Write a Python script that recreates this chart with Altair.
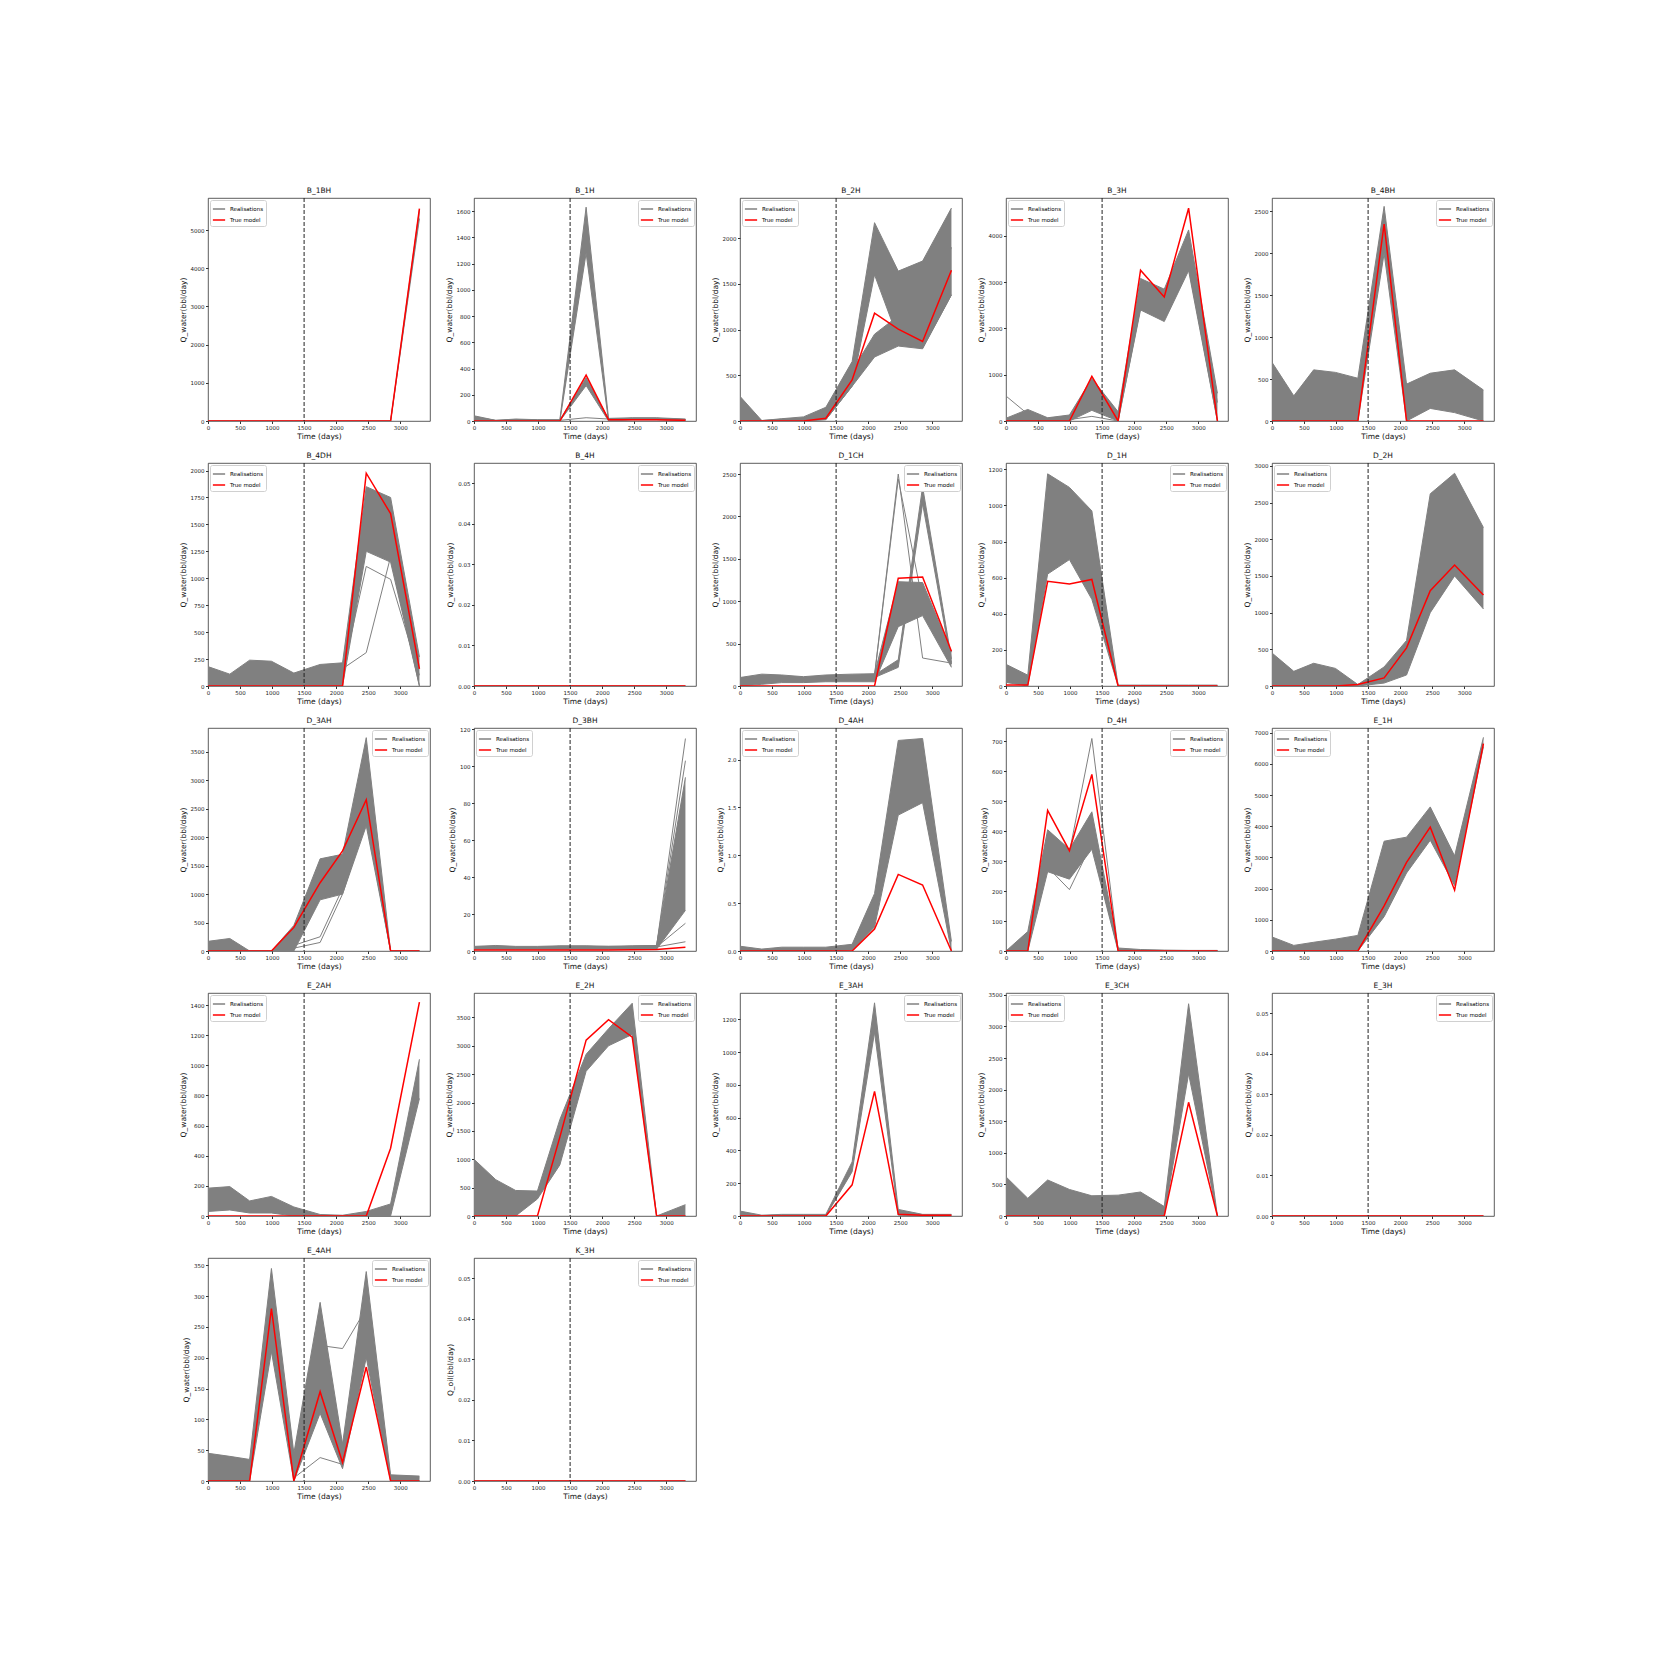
import altair as alt
import pandas as pd

# report times (days)
T = [0, 340, 650, 990, 1340, 1750, 2100, 2470, 2850, 3300]
X_TICKS = [0, 500, 1000, 1500, 2000, 2500, 3000]
HISTORY_END = 1500
YW = "Q_water(bbl/day)"
YO = "Q_oil(bbl/day)"

# ---- values: true model, ensemble upper/lower envelopes, outlier realisations
B_1BH_true = [0, 0, 0, 0, 0, 0, 0, 0, 0, 5560]
B_1BH_hi = [0, 0, 0, 0, 0, 0, 0, 0, 0, 5540]
B_1BH_lo = [0, 0, 0, 0, 0, 0, 0, 0, 0, 5300]

B_1H_true = [0, 0, 0, 0, 0, 350, 10, 10, 10, 5]
B_1H_hi = [40, 5, 15, 10, 10, 1630, 20, 25, 25, 15]
B_1H_lo = [0, 0, 5, 0, 0, 1280, 0, 10, 10, 5]
B_1H_hi2 = [30, 5, 12, 8, 8, 330, 15, 20, 20, 12]
B_1H_lo2 = [0, 0, 5, 0, 0, 270, 0, 10, 10, 5]
B_1H_ex1 = [20, 0, 10, 5, 5, 25, 15, 20, 20, 10]

B_2H_true = [0, 0, 0, 0, 30, 450, 1180, 1005, 870, 1650]
B_2H_hi = [270, 5, 25, 45, 150, 650, 2170, 1640, 1750, 2330]
B_2H_lo = [0, 0, 0, 0, 15, 380, 1600, 900, 800, 1380]
B_2H_hi2 = [100, 5, 20, 30, 100, 550, 950, 1150, 1100, 1900]
B_2H_lo2 = [0, 0, 0, 0, 15, 380, 700, 820, 790, 1380]

B_3H_true = [0, 0, 0, 0, 965, 0, 3260, 2680, 4600, 0]
B_3H_hi = [60, 250, 70, 130, 920, 200, 3080, 2850, 4130, 600]
B_3H_lo = [0, 0, 0, 0, 230, 0, 2400, 2150, 3250, 0]
B_3H_ex1 = [540, 150, 60, 100, 600, 150, 2900, 2700, 3800, 400]
B_3H_ex2 = [0, 50, 20, 30, 100, 0, 2450, 2200, 3350, 0]

B_4BH_true = [0, 0, 0, 0, 0, 2350, 0, 0, 0, 0]
B_4BH_hi = [700, 300, 610, 580, 510, 2560, 440, 570, 610, 370]
B_4BH_lo = [0, 0, 0, 0, 0, 2000, 0, 150, 100, 0]

B_4DH_true = [0, 0, 0, 0, 0, 0, 0, 1975, 1600, 160]
B_4DH_hi = [180, 110, 240, 230, 120, 200, 215, 1850, 1750, 270]
B_4DH_lo = [0, 0, 0, 0, 0, 0, 0, 1250, 1150, 0]
B_4DH_ex1 = [100, 60, 150, 150, 80, 150, 160, 310, 1200, 0]
B_4DH_ex2 = [60, 40, 100, 100, 60, 100, 120, 1110, 990, 100]

B_4H_true = [0, 0, 0, 0, 0, 0, 0, 0, 0, 0]
B_4H_hi = [0, 0, 0, 0, 0, 0, 0, 0, 0, 0]
B_4H_lo = [0, 0, 0, 0, 0, 0, 0, 0, 0, 0]

D_1CH_true = [0, 0, 0, 0, 0, 0, 0, 1270, 1285, 410]
D_1CH_hi = [100, 140, 130, 110, 130, 140, 145, 1230, 1220, 400]
D_1CH_lo = [0, 20, 40, 40, 50, 50, 50, 700, 830, 220]
D_1CH_hi2 = [90, 120, 110, 100, 110, 120, 130, 310, 2350, 320]
D_1CH_lo2 = [60, 80, 80, 70, 80, 90, 100, 220, 2150, 260]
D_1CH_ex1 = [80, 120, 110, 100, 110, 120, 130, 2500, 330, 270]
D_1CH_ex2 = [70, 110, 100, 90, 100, 110, 120, 2440, 1000, 280]

D_1H_true = [5, 5, 580, 565, 590, 0, 0, 0, 0, 0]
D_1H_hi = [120, 60, 1175, 1100, 970, 5, 5, 5, 5, 5]
D_1H_lo = [20, 0, 620, 700, 480, 0, 0, 0, 0, 0]

D_2H_true = [0, 0, 0, 0, 20, 110, 520, 1300, 1650, 1240]
D_2H_hi = [450, 200, 310, 240, 20, 260, 620, 2620, 2900, 2160]
D_2H_lo = [0, 0, 0, 0, 0, 40, 150, 1000, 1500, 1050]

D_3AH_true = [0, 0, 0, 0, 415, 1200, 1760, 2660, 0, 0]
D_3AH_hi = [170, 220, 0, 0, 450, 1620, 1700, 3750, 0, 0]
D_3AH_lo = [0, 0, 0, 0, 0, 900, 1000, 2200, 0, 0]
D_3AH_ex1 = [0, 0, 0, 0, 50, 150, 1000, 2300, 0, 0]
D_3AH_ex2 = [0, 0, 0, 0, 100, 250, 1100, 2400, 0, 0]

D_3BH_true = [0.5, 0.5, 0.5, 0.5, 0.5, 0.6, 0.6, 0.7, 0.8, 2]
D_3BH_hi = [2.5, 3, 2.5, 2.5, 2.8, 2.8, 2.6, 2.8, 3, 94]
D_3BH_lo = [1, 1, 1, 1, 1, 1, 1, 1, 1, 22]
D_3BH_ex1 = [2, 2.5, 2, 2, 2.5, 2.5, 2.3, 2.5, 2.8, 115]
D_3BH_ex2 = [2, 2.5, 2, 2, 2.5, 2.5, 2.3, 2.5, 2.8, 103]
D_3BH_ex3 = [1.5, 2, 1.5, 1.5, 2, 2, 2, 2, 2.2, 15]
D_3BH_ex4 = [1.5, 2, 1.5, 1.5, 2, 2, 2, 2, 2.2, 5]

D_4AH_true = [0, 0, 0, 0, 0, 0, 0.23, 0.8, 0.69, 0]
D_4AH_hi = [0.05, 0.02, 0.04, 0.04, 0.04, 0.07, 0.6, 2.2, 2.22, 0.1]
D_4AH_lo = [0, 0, 0, 0, 0, 0.01, 0.25, 1.42, 1.55, 0]

D_4H_true = [0, 0, 470, 335, 590, 0, 0, 0, 0, 0]
D_4H_hi = [0, 65, 405, 340, 465, 10, 5, 3, 2, 2]
D_4H_lo = [0, 0, 265, 240, 340, 0, 0, 0, 0, 0]
D_4H_ex1 = [0, 40, 390, 330, 710, 5, 2, 1, 1, 1]
D_4H_ex2 = [0, 40, 280, 205, 360, 5, 2, 1, 1, 1]

E_1H_true = [0, 0, 0, 0, 0, 1450, 2840, 3970, 1950, 6650]
E_1H_hi = [450, 180, 280, 380, 500, 3520, 3650, 4620, 3050, 6850]
E_1H_lo = [0, 0, 0, 0, 0, 1100, 2500, 3550, 2100, 6550]

E_2AH_true = [0, 0, 0, 0, 0, 0, 0, 0, 450, 1420]
E_2AH_hi = [185, 195, 100, 130, 60, 10, 5, 30, 80, 1040]
E_2AH_lo = [30, 40, 20, 20, 0, 0, 0, 0, 0, 780]

E_2H_true = [0, 0, 0, 0, 1390, 3100, 3460, 3150, 0, 0]
E_2H_hi = [1000, 640, 450, 440, 1700, 2850, 3300, 3750, 0, 200]
E_2H_lo = [0, 0, 0, 300, 900, 2550, 3000, 3200, 0, 0]

E_3AH_true = [0, 0, 0, 0, 0, 190, 760, 10, 5, 5]
E_3AH_hi = [30, 5, 10, 10, 10, 330, 1300, 40, 10, 10]
E_3AH_lo = [0, 0, 0, 0, 0, 270, 1120, 5, 0, 0]

E_3CH_true = [0, 0, 0, 0, 0, 0, 0, 0, 1800, 0]
E_3CH_hi = [620, 280, 570, 420, 320, 330, 380, 150, 3360, 0]
E_3CH_lo = [0, 0, 0, 0, 0, 0, 0, 0, 2250, 0]

E_3H_true = [0, 0, 0, 0, 0, 0, 0, 0, 0, 0]
E_3H_hi = [0, 0, 0, 0, 0, 0, 0, 0, 0, 0]
E_3H_lo = [0, 0, 0, 0, 0, 0, 0, 0, 0, 0]

E_4AH_true = [0, 0, 0, 280, 0, 145, 30, 185, 0, 0]
E_4AH_hi = [45, 40, 35, 345, 45, 290, 60, 340, 10, 8]
E_4AH_lo = [0, 0, 0, 210, 0, 110, 20, 200, 0, 0]
E_4AH_ex1 = [10, 10, 10, 250, 5, 38, 27, 250, 2, 1]
E_4AH_ex2 = [30, 30, 30, 280, 40, 220, 215, 280, 5, 5]

K_3H_true = [0, 0, 0, 0, 0, 0, 0, 0, 0, 0]
K_3H_hi = [0, 0, 0, 0, 0, 0, 0, 0, 0, 0]
K_3H_lo = [0, 0, 0, 0, 0, 0, 0, 0, 0, 0]

SMALL_TICKS = [0, 0.01, 0.02, 0.03, 0.04, 0.05]

# name, true, bands, extra lines, y top, y ticks, tick format, legend corner, y label
PANELS = [
    ("B_1BH", B_1BH_true, [(B_1BH_hi, B_1BH_lo)], [], 5840, [0, 1000, 2000, 3000, 4000, 5000], "d", "top-left", YW),
    ("B_1H", B_1H_true, [(B_1H_hi, B_1H_lo), (B_1H_hi2, B_1H_lo2)], [B_1H_ex1], 1700, [0, 200, 400, 600, 800, 1000, 1200, 1400, 1600], "d", "top-right", YW),
    ("B_2H", B_2H_true, [(B_2H_hi, B_2H_lo), (B_2H_hi2, B_2H_lo2)], [], 2440, [0, 500, 1000, 1500, 2000], "d", "top-left", YW),
    ("B_3H", B_3H_true, [(B_3H_hi, B_3H_lo)], [B_3H_ex1, B_3H_ex2], 4820, [0, 1000, 2000, 3000, 4000], "d", "top-left", YW),
    ("B_4BH", B_4BH_true, [(B_4BH_hi, B_4BH_lo)], [], 2660, [0, 500, 1000, 1500, 2000, 2500], "d", "top-right", YW),
    ("B_4DH", B_4DH_true, [(B_4DH_hi, B_4DH_lo)], [B_4DH_ex1, B_4DH_ex2], 2070, [0, 250, 500, 750, 1000, 1250, 1500, 1750, 2000], "d", "top-left", YW),
    ("B_4H", B_4H_true, [(B_4H_hi, B_4H_lo)], [], 0.055, SMALL_TICKS, ".2f", "top-right", YW),
    ("D_1CH", D_1CH_true, [(D_1CH_hi, D_1CH_lo), (D_1CH_hi2, D_1CH_lo2)], [D_1CH_ex1, D_1CH_ex2], 2630, [0, 500, 1000, 1500, 2000, 2500], "d", "top-right", YW),
    ("D_1H", D_1H_true, [(D_1H_hi, D_1H_lo)], [], 1235, [0, 200, 400, 600, 800, 1000, 1200], "d", "top-right", YW),
    ("D_2H", D_2H_true, [(D_2H_hi, D_2H_lo)], [], 3040, [0, 500, 1000, 1500, 2000, 2500, 3000], "d", "top-left", YW),
    ("D_3AH", D_3AH_true, [(D_3AH_hi, D_3AH_lo)], [D_3AH_ex1, D_3AH_ex2], 3920, [0, 500, 1000, 1500, 2000, 2500, 3000, 3500], "d", "top-right", YW),
    ("D_3BH", D_3BH_true, [(D_3BH_hi, D_3BH_lo)], [D_3BH_ex1, D_3BH_ex2, D_3BH_ex3, D_3BH_ex4], 120.7, [0, 20, 40, 60, 80, 100, 120], "d", "top-left", YW),
    ("D_4AH", D_4AH_true, [(D_4AH_hi, D_4AH_lo)], [], 2.33, [0, 0.5, 1.0, 1.5, 2.0], ".1f", "top-left", YW),
    ("D_4H", D_4H_true, [(D_4H_hi, D_4H_lo)], [D_4H_ex1, D_4H_ex2], 745, [0, 100, 200, 300, 400, 500, 600, 700], "d", "top-right", YW),
    ("E_1H", E_1H_true, [(E_1H_hi, E_1H_lo)], [], 7150, [0, 1000, 2000, 3000, 4000, 5000, 6000, 7000], "d", "top-left", YW),
    ("E_2AH", E_2AH_true, [(E_2AH_hi, E_2AH_lo)], [], 1480, [0, 200, 400, 600, 800, 1000, 1200, 1400], "d", "top-left", YW),
    ("E_2H", E_2H_true, [(E_2H_hi, E_2H_lo)], [], 3930, [0, 500, 1000, 1500, 2000, 2500, 3000, 3500], "d", "top-right", YW),
    ("E_3AH", E_3AH_true, [(E_3AH_hi, E_3AH_lo)], [], 1360, [0, 200, 400, 600, 800, 1000, 1200], "d", "top-right", YW),
    ("E_3CH", E_3CH_true, [(E_3CH_hi, E_3CH_lo)], [], 3530, [0, 500, 1000, 1500, 2000, 2500, 3000, 3500], "d", "top-left", YW),
    ("E_3H", E_3H_true, [(E_3H_hi, E_3H_lo)], [], 0.055, SMALL_TICKS, ".2f", "top-right", YW),
    ("E_4AH", E_4AH_true, [(E_4AH_hi, E_4AH_lo)], [E_4AH_ex1, E_4AH_ex2], 362, [0, 50, 100, 150, 200, 250, 300, 350], "d", "top-right", YW),
    ("K_3H", K_3H_true, [(K_3H_hi, K_3H_lo)], [], 0.055, SMALL_TICKS, ".2f", "top-right", YO),
]

GREY = "#808080"
RED = "#ff0000"
FONT = "DejaVu Sans"


def panel(name, true, bands, extras, ymax, yticks, fmt, side, ylab):
    band_rows = []
    for bi, (hi, lo) in enumerate(bands):
        for t, h, l in zip(T, hi, lo):
            band_rows.append({"t": t, "hi": h, "lo": l, "band": bi})
    runs = []
    for hi, lo in bands:
        runs += [hi, lo]
    runs += extras
    line_rows = []
    for ri, r in enumerate(runs):
        for t, v in zip(T, r):
            line_rows.append({"t": t, "v": v, "run": ri, "kind": "Realisations"})
    true_rows = [{"t": t, "v": v, "kind": "True model"} for t, v in zip(T, true)]

    x = alt.X("t:Q", scale=alt.Scale(domain=[0, 3465], nice=False, zero=False),
              axis=alt.Axis(values=X_TICKS, format="d", title="Time (days)",
                            labelOverlap=False, labelFlush=False, labelBound=False))
    yscale = alt.Scale(domain=[0, ymax], nice=False, zero=False)
    yaxis = alt.Axis(values=yticks, format=fmt, title=ylab, labelOverlap=False,
                     labelFlush=False, labelBound=False)
    color = alt.Color(
        "kind:N",
        scale=alt.Scale(domain=["Realisations", "True model"], range=[GREY, RED]),
        legend=alt.Legend(title=None, orient=side, offset=2, fillColor="white",
                          strokeColor="#d0d0d0", padding=2, cornerRadius=2,
                          labelFontSize=5.5, labelFont=FONT, symbolType="stroke",
                          symbolSize=150, symbolStrokeWidth=1.5, rowPadding=0,
                          labelOffset=4, labelLimit=200),
    )
    area = alt.Chart(pd.DataFrame(band_rows)).mark_area(
        color=GREY, opacity=1, clip=True, interpolate="linear"
    ).encode(x=x, y=alt.Y("hi:Q", scale=yscale, axis=yaxis), y2="lo:Q", detail="band:N")
    grey = alt.Chart(pd.DataFrame(line_rows)).mark_line(strokeWidth=1, clip=True).encode(
        x=x, y=alt.Y("v:Q", scale=yscale, axis=yaxis), color=color, detail="run:N")
    red = alt.Chart(pd.DataFrame(true_rows)).mark_line(strokeWidth=1.5, clip=True).encode(
        x=x, y=alt.Y("v:Q", scale=yscale, axis=yaxis), color=color)
    rule = alt.Chart(pd.DataFrame({"t": [HISTORY_END]})).mark_rule(
        color="#222222", strokeDash=[4, 2], strokeWidth=1).encode(x=x)
    return alt.layer(area, grey, red, rule).properties(
        width=222, height=223,
        title=alt.TitleParams(name, fontSize=7.5, font=FONT, fontWeight="normal", offset=3, color="#111111"),
    )


charts = [panel(*p) for p in PANELS]

chart = alt.concat(*charts, columns=5, spacing={"row": 42, "column": 44}, bounds="flush").resolve_scale(
    x="independent", y="independent", color="independent"
).resolve_legend(color="independent").properties(
    padding={"left": 170, "top": 178, "right": 10, "bottom": 10}
).configure_view(stroke="#333333", strokeWidth=0.8).configure_axis(
    labelFontSize=5.5, titleFontSize=7.5, labelFont=FONT, titleFont=FONT,
    titleFontWeight="normal", tickSize=2.5, grid=False, domain=False,
    labelColor="#222222", titleColor="#111111", tickColor="#333333", labelPadding=1.5,
    labelOverlap=False,
).configure_axisX(titlePadding=2).configure_axisY(titlePadding=3)

chart.save("out.html", embed_options={"renderer": "svg", "actions": False})
